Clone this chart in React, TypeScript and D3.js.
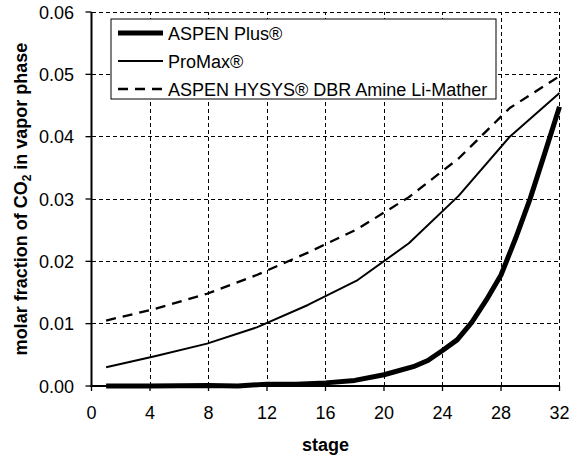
import React, { useEffect, useRef } from 'react';
import * as d3 from 'd3';

// stages where the simulators report values
const stages = [1, 4.4, 7.9, 11.3, 14.8, 18.2, 21.7, 25.1, 28.6, 32];
const promax = [0.003, 0.0048, 0.0068, 0.0094, 0.013, 0.017, 0.0229, 0.0305, 0.04, 0.047];
const hysys = [0.0105, 0.0124, 0.0148, 0.0178, 0.0214, 0.0252, 0.0303, 0.0365, 0.0446, 0.0497];

const plusStages = [1, 4, 8, 10, 12, 14, 16, 18, 20, 22, 23, 24, 25, 26, 27, 28, 29, 30, 31, 32];
const aspenPlus = [0, 0, 0.0001, 0, 0.0003, 0.0003, 0.0005, 0.0009, 0.0018, 0.0031, 0.0041, 0.0057, 0.0074, 0.0102, 0.0138, 0.0178, 0.0237, 0.0301, 0.0374, 0.0448];

const xTicks = [0, 4, 8, 12, 16, 20, 24, 28, 32];
const yTicks = [0, 0.01, 0.02, 0.03, 0.04, 0.05, 0.06];

const legendLabels = ['ASPEN Plus®', 'ProMax®', 'ASPEN HYSYS® DBR Amine Li-Mather'];

const W = 569;
const H = 463;
const FONT = '"Liberation Sans", Arial, sans-serif';

const App = () => {
  const ref = useRef<SVGSVGElement | null>(null);

  useEffect(() => {
    const svg = d3.select(ref.current);
    svg.selectAll('*').remove();

    const x = d3.scaleLinear().domain([0, 32]).range([91.5, 559.5]);
    const y = d3.scaleLinear().domain([0, 0.06]).range([386, 12]);

    // gridlines
    const grid = svg.append('g').attr('stroke', '#000').attr('stroke-width', 1)
      .attr('stroke-dasharray', '4,3').attr('shape-rendering', 'crispEdges');
    grid.selectAll('.gx').data(xTicks.slice(1)).enter().append('line')
      .attr('x1', d => x(d)).attr('x2', d => x(d))
      .attr('y1', y(0)).attr('y2', y(0.06));
    grid.selectAll('.gy').data(yTicks.slice(1)).enter().append('line')
      .attr('x1', x(0)).attr('x2', x(32))
      .attr('y1', d => y(d)).attr('y2', d => y(d));

    // axes
    const axes = svg.append('g').attr('stroke', '#000');
    axes.append('line').attr('x1', x(0)).attr('x2', x(0)).attr('y1', y(0.06)).attr('y2', y(0) + 1)
      .attr('stroke-width', 2);
    axes.append('line').attr('x1', x(0) - 1).attr('x2', x(32)).attr('y1', y(0)).attr('y2', y(0))
      .attr('stroke-width', 2);
    axes.selectAll('.tx').data(xTicks).enter().append('line')
      .attr('x1', d => x(d)).attr('x2', d => x(d))
      .attr('y1', y(0)).attr('y2', y(0) + 5).attr('stroke-width', 1.3);
    axes.selectAll('.ty').data(yTicks).enter().append('line')
      .attr('x1', x(0) - 6).attr('x2', x(0))
      .attr('y1', d => y(d)).attr('y2', d => y(d)).attr('stroke-width', 1.3);

    // tick labels
    svg.append('g').selectAll('text').data(xTicks).enter().append('text')
      .attr('x', d => x(d)).attr('y', 419)
      .attr('text-anchor', 'middle')
      .style('font-family', FONT).style('font-size', '18px')
      .text(d => d);
    svg.append('g').selectAll('text').data(yTicks).enter().append('text')
      .attr('x', 74).attr('y', d => y(d) + 6.5)
      .attr('text-anchor', 'end')
      .style('font-family', FONT).style('font-size', '18px')
      .text(d => d3.format('.2f')(d));

    // axis titles
    svg.append('text')
      .attr('x', (x(0) + x(32)) / 2).attr('y', 451)
      .attr('text-anchor', 'middle')
      .style('font-family', FONT).style('font-size', '18px').style('font-weight', 'bold')
      .text('stage');

    const yt = svg.append('text')
      .attr('transform', `translate(27,${(y(0) + y(0.06)) / 2}) rotate(-90)`)
      .attr('text-anchor', 'middle')
      .style('font-family', FONT).style('font-size', '18px').style('font-weight', 'bold');
    yt.append('tspan').text('molar fraction of CO');
    yt.append('tspan').attr('dy', 4).style('font-size', '12px').text('2');
    yt.append('tspan').attr('dy', -4).text(' in vapor phase');

    // series
    const line = d3.line<[number, number]>().x(d => x(d[0])).y(d => y(d[1]));
    const series = [
      { pts: plusStages.map((s, i) => [s, aspenPlus[i]] as [number, number]), width: 5, dash: null },
      { pts: stages.map((s, i) => [s, promax[i]] as [number, number]), width: 2, dash: null },
      { pts: stages.map((s, i) => [s, hysys[i]] as [number, number]), width: 2.3, dash: '10,7' },
    ];
    series.forEach(s => {
      svg.append('path')
        .attr('d', line(s.pts))
        .attr('fill', 'none')
        .attr('stroke', '#000')
        .attr('stroke-width', s.width)
        .attr('stroke-linejoin', 'round')
        .attr('stroke-dasharray', s.dash);
    });

    // legend
    const lg = svg.append('g');
    lg.append('rect').attr('x', 111).attr('y', 19).attr('width', 385).attr('height', 80)
      .attr('fill', '#fff').attr('stroke', '#000').attr('stroke-width', 1);
    legendLabels.forEach((label, i) => {
      const ly = 33 + i * 28;
      lg.append('line').attr('x1', 118).attr('x2', 163).attr('y1', ly).attr('y2', ly)
        .attr('stroke', '#000').attr('stroke-width', series[i].width)
        .attr('stroke-dasharray', series[i].dash);
      lg.append('text').attr('x', 168).attr('y', ly + 6.5)
        .style('font-family', FONT).style('font-size', '18px')
        .text(label);
    });
  }, []);

  return (
    <svg ref={ref} width={W} height={H}
      style={{ position: 'absolute', left: 0, top: 0, background: '#fff' }} />
  );
};

export default App;
